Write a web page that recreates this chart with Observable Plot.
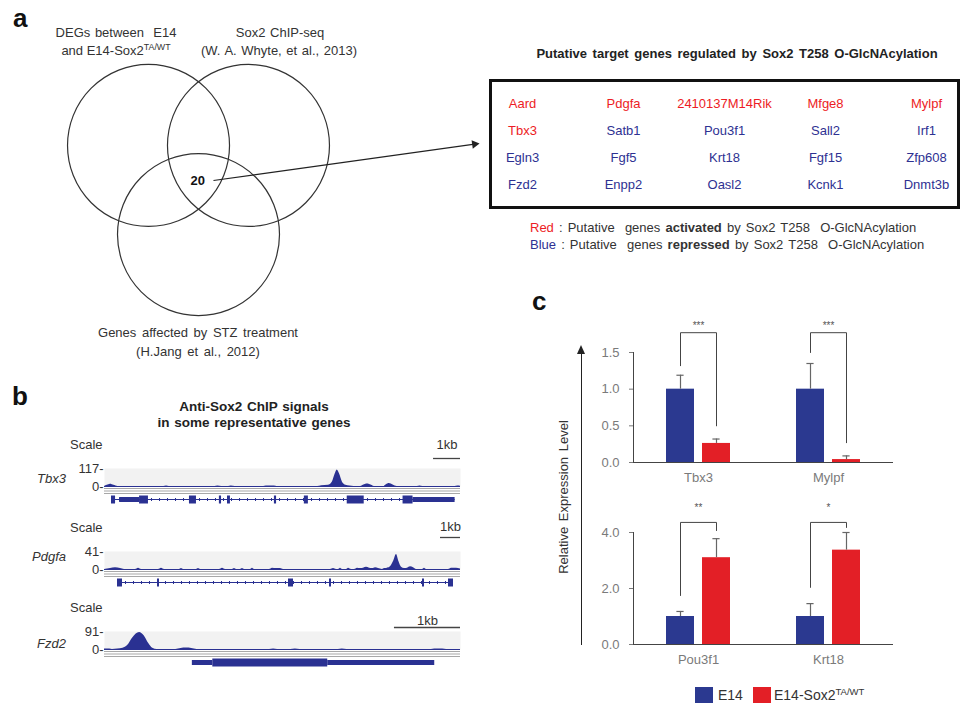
<!DOCTYPE html>
<html><head><meta charset="utf-8">
<script src="https://cdn.jsdelivr.net/npm/d3@7"></script>
<script src="https://cdn.jsdelivr.net/npm/@observablehq/plot@0.6"></script>
<style>
html,body{margin:0;padding:0;background:#fff;}
#root{position:relative;width:962px;height:703px;overflow:hidden;font-family:"Liberation Sans",Arial,sans-serif;color:#333;background:#fff;}
.t{position:absolute;white-space:nowrap;line-height:1.15;font-size:13px;}
.c{transform:translate(-50%,-50%);}
.l{transform:translate(0,-50%);}
.r{transform:translate(-100%,-50%);}
.pl{position:absolute;font-weight:bold;font-size:26px;line-height:26px;color:#111;}
sup{font-size:0.68em;vertical-align:0.5em;line-height:0;}
svg{overflow:visible;}
</style></head>
<body><div id="root"></div>
<script>
// ================= DATA =================
// Panel a — Venn diagram (unit circles)
const vennSetLabels = [
  ["DEGs between&nbsp; E14", "and E14-Sox2<sup>TA/WT</sup>"],
  ["Sox2 ChIP-seq", "(W. A. Whyte, et al., 2013)"],
  ["Genes affected by STZ treatment", "(H.Jang et al., 2012)"]
];
const vennCenterX = [-0.617, 0.617, 0];
const vennCenterY = [0.55, 0.55, -0.55];
const vennRadius = [1, 1, 1];
const tripleOverlapCount = 20;

// Panel a — gene table
const tableTitle = "Putative target genes regulated by Sox2 T258 O-GlcNAcylation";
const targetGenes = ["Aard","Pdgfa","2410137M14Rik","Mfge8","Mylpf",
                     "Tbx3","Satb1","Pou3f1","Sall2","Irf1",
                     "Egln3","Fgf5","Krt18","Fgf15","Zfp608",
                     "Fzd2","Enpp2","Oasl2","Kcnk1","Dnmt3b"];
const activatedGenes = ["Aard","Pdgfa","2410137M14Rik","Mfge8","Mylpf","Tbx3"];

// Panel b — ChIP tracks
const chipTitle = ["Anti-Sox2 ChIP signals", "in some representative genes"];
const chipGenes = ["Tbx3", "Pdgfa", "Fzd2"];
const chipScaleMax = [117, 41, 91];
const chipRegionKb = [13.2, 17.8, 5.39];
const scaleBarKb = 1;
const tbx3Signal = [[0,0],[0.1,8],[0.22,15],[0.35,8],[0.5,0],[2.2,0],[2.3,3],[2.4,0],
  [4.1,0],[4.2,4],[4.35,0],[4.6,0],[4.7,4],[4.85,0],[5.9,0],[6.0,3],[6.3,3],[6.4,0],
  [7.9,0],[8.05,5],[8.3,8],[8.45,30],[8.55,80],[8.63,108],[8.72,80],[8.82,30],[8.95,8],[9.1,3],[9.25,0],
  [9.5,0],[9.6,8],[9.75,16],[9.9,8],[10.0,0],[10.35,0],[10.45,12],[10.56,20],[10.7,10],[10.85,0],
  [11.6,0],[11.7,3],[11.8,0],[13.0,0],[13.1,4],[13.2,2]];
const pdgfaSignal = [[0,0],[0.3,2],[0.55,4],[0.8,2],[1.0,0],[1.55,0],[1.7,3],[1.85,0],
  [2.7,0],[2.85,3],[3.0,0],[3.75,0],[3.85,2],[3.95,0],[4.6,0],[4.7,2],[4.8,0],
  [5.75,0],[5.9,3],[6.05,0],[6.4,0],[6.5,2],[6.6,0],[6.8,0],[6.9,2],[7.0,0],[7.3,0],[7.4,3],[7.5,0],
  [8.25,0],[8.4,3],[8.6,2],[8.8,2],[8.95,0],[11.3,0],[11.45,2],[11.6,0],[11.7,0],[11.8,3],[11.9,0],
  [12.1,0],[12.2,3],[12.35,0],[12.5,0],[12.65,3],[12.8,2],[12.95,3],[13.1,5],[13.25,3],[13.4,2],[13.55,4],[13.7,2],[13.9,0],
  [14.0,2],[14.15,3],[14.3,6],[14.45,18],[14.6,34],[14.72,18],[14.85,5],[15.0,2],
  [15.15,3],[15.3,6],[15.45,4],[15.6,0],[15.9,0],[16.0,3],[16.1,0],[17.2,0],[17.35,3],[17.6,3],[17.8,1]];
const fzd2Signal = [[0,3],[0.08,3],[0.12,0],[0.2,2],[0.28,6],[0.35,20],[0.43,60],[0.53,86],[0.6,70],[0.67,30],[0.73,6],[0.8,0],
  [1.08,0],[1.16,5],[1.24,7],[1.32,5],[1.4,0],[2.5,0],[2.56,3],[2.62,0],[2.82,0],[2.89,3],[2.96,0],
  [3.54,0],[3.6,3],[3.67,0],[4.95,0],[5.0,3],[5.12,3],[5.18,0],[5.39,0]];
const tbx3Introns = [[0.26, 13.0]];
const tbx3Exons = [[0.26,0.41,"cds"],[0.56,1.30,"utr"],[1.30,1.63,"cds"],[3.15,3.41,"cds"],[4.26,4.34,"cds"],
  [4.56,4.67,"cds"],[6.30,6.38,"cds"],[7.41,7.56,"cds"],[9.0,9.63,"cds"],[11.07,11.44,"cds"],[11.44,13.0,"utr"]];
const pdgfaIntrons = [[0.65, 17.45]];
const pdgfaExons = [[0.65,0.9,"cds"],[2.65,2.75,"cds"],[9.2,9.45,"cds"],[11.25,11.35,"cds"],[15.9,16.0,"cds"],[17.2,17.45,"cds"]];
const fzd2Introns = [];
const fzd2Exons = [[1.33,1.64,"utr"],[1.64,3.38,"cds"],[3.38,5.0,"utr"]];

// Panel c — qPCR
const qpcrGenes = ["Tbx3", "Mylpf", "Pou3f1", "Krt18"];
const qpcrConditions = ["E14", "E14-Sox2TA/WT"];
const meanE14 = [1.0, 1.0, 1.0, 1.0];
const errE14 = [0.19, 0.35, 0.18, 0.46];
const meanTA = [0.26, 0.04, 3.10, 3.37];
const errTA = [0.06, 0.05, 0.68, 0.63];
const sigLabels = ["***", "***", "**", "*"];
const bracketLeftY = [1.32, 1.50, 1.75, 2.04];
const bracketTopY = [1.77, 1.77, 4.36, 4.36];
const bracketRightY = [0.50, 0.27, 4.07, 4.18];
const sigY = [1.86, 1.86, 4.89, 4.89];
const yTicksTop = [0, 0.5, 1.0, 1.5];
const yTicksBottom = [0, 2, 4];
const yAxisTitle = "Relative Expression Level";

// ================= STYLE / LAYOUT =================
const RED = "#e31f26", BLUE = "#2b3990", TXT_RED = "#ed1c24", TXT_BLUE = "#2e3192", TRACK = "#2a3192";
const FONT = '"Liberation Sans", Arial, sans-serif';
const baseStyle = {fontFamily: FONT, fontSize: "13px", background: "transparent", overflow: "visible", color: "#333"};
const root = document.getElementById("root");
function put(node, left, top) { node.style.position = "absolute"; node.style.left = left + "px"; node.style.top = top + "px"; root.appendChild(node); return node; }
function txt(html, x, y, cls, extra = "") { const d = document.createElement("div"); d.className = "t " + cls; d.innerHTML = html; d.style.cssText += `left:${x}px;top:${y}px;${extra}`; root.appendChild(d); return d; }
function letter(ch, x, y) { const d = document.createElement("div"); d.className = "pl"; d.textContent = ch; d.style.left = x + "px"; d.style.top = y + "px"; root.appendChild(d); }

// ================= PANEL a : Venn =================
const U = 81; // px per venn unit
const vennCircles = vennCenterX.map((x, i) => ({x, y: vennCenterY[i], r: vennRadius[i]}));
const arrowStart = {x: 0.185, y: 0.117}, arrowTip = {x: 3.469, y: 0.574};
const adx = (arrowTip.x - arrowStart.x), ady = (arrowTip.y - arrowStart.y);
const alen = Math.hypot(adx, ady);
const headBack = 4.9 / U;
const arrowEnd = {x: arrowTip.x - adx / alen * headBack, y: arrowTip.y - ady / alen * headBack};
const arrowAngle = Math.atan2(adx, ady) * 180 / Math.PI;
put(Plot.plot({
  width: 490, height: 390, margin: 0,
  style: baseStyle,
  x: {domain: [-198 / U, 292 / U], axis: null},
  y: {domain: [-200.5 / U, 189.5 / U], axis: null},
  r: {type: "identity"},
  marks: [
    Plot.dot(vennCircles, {x: "x", y: "y", r: d => d.r * U, stroke: "#333", strokeWidth: 1.2, fill: "none"}),
    Plot.text([{x: -0.01, y: 0.117, t: String(tripleOverlapCount)}], {x: "x", y: "y", text: "t", fontWeight: "bold", fontSize: 13, fill: "#111"}),
    Plot.link([{a: arrowStart, b: arrowEnd}], {x1: d => d.a.x, y1: d => d.a.y, x2: d => d.b.x, y2: d => d.b.y, stroke: "#222", strokeWidth: 1.2}),
    Plot.dot([arrowEnd], {x: "x", y: "y", symbol: "triangle", r: 3.2, rotate: arrowAngle, fill: "#222", stroke: "none"})
  ]
}), 0, 0);
letter("a", 13, 5);
txt(vennSetLabels[0][0], 116, 33, "c", "word-spacing:1px");
txt(vennSetLabels[0][1], 116, 51, "c");
txt(vennSetLabels[1][0], 280, 33, "c", "word-spacing:1px");
txt(vennSetLabels[1][1], 279, 51, "c", "word-spacing:1px");
txt(vennSetLabels[2][0], 198, 333, "c", "word-spacing:2px");
txt(vennSetLabels[2][1], 198, 352, "c", "word-spacing:2px");

// ================= PANEL a : table =================
const cells = targetGenes.map((g, i) => ({g, col: i % 5, row: Math.floor(i / 5), reg: activatedGenes.includes(g) ? "activated" : "repressed"}));
put(Plot.plot({
  width: 472, height: 131, margin: 2,
  style: baseStyle,
  x: {type: "point", domain: [0, 1, 2, 3, 4], padding: 0.305, axis: null},
  y: {type: "point", domain: [0, 1, 2, 3], padding: 0.85, axis: null},
  color: {domain: ["activated", "repressed"], range: [TXT_RED, TXT_BLUE]},
  marks: [
    Plot.frame({stroke: "#111", strokeWidth: 3}),
    Plot.text(cells, {x: "col", y: "row", text: "g", fill: "reg", fontSize: 13})
  ]
}), 488, 78);
txt(tableTitle, 737, 54, "c", "font-weight:bold;font-size:13px;color:#222;word-spacing:2px");
txt(`<span style="color:${TXT_RED}">Red</span> : Putative&nbsp; genes <b>activated</b> by Sox2 T258&nbsp; O-GlcNAcylation`, 530, 228, "l", "font-size:13px;word-spacing:1.5px");
txt(`<span style="color:${TXT_BLUE}">Blue</span> : Putative&nbsp; genes <b>repressed</b> by Sox2 T258&nbsp; O-GlcNAcylation`, 530, 245, "l", "font-size:13px;word-spacing:1.5px");

// ================= PANEL b : ChIP tracks =================
letter("b", 12, 383);
txt(chipTitle[0], 254, 407, "c", "font-weight:bold;font-size:13.5px;color:#222;word-spacing:1px");
txt(chipTitle[1], 254, 423, "c", "font-weight:bold;font-size:13.5px;color:#222;word-spacing:1px");
const trackLayout = [
  {top: 418, scaleY: 445, nameY: 479, barDy: 10, textDy: 24},
  {top: 501, scaleY: 528, nameY: 557, barDy: 14, textDy: 25},
  {top: 581, scaleY: 608, nameY: 644, barDy: 4, textDy: 11}
];
const signals = [tbx3Signal, pdgfaSignal, fzd2Signal];
const exonSets = [tbx3Exons, pdgfaExons, fzd2Exons];
const intronSets = [tbx3Introns, pdgfaIntrons, fzd2Introns];
chipGenes.forEach((gene, i) => {
  const Lt = trackLayout[i];
  const maxV = chipScaleMax[i], kb = chipRegionKb[i];
  const sig = signals[i].map(([x, v]) => ({x, v}));
  const feats = exonSets[i].map(([s, e, t]) => ({s, e, t}));
  const intr = intronSets[i].map(([s, e]) => ({s, e}));
  const bar = [{x1: kb - scaleBarKb, x2: kb, xm: kb - scaleBarKb / 2, y: maxV, label: "1kb"}];
  put(Plot.plot({
    width: 470, height: 90, marginLeft: 104, marginRight: 10, marginTop: 50, marginBottom: 22,
    style: baseStyle,
    x: {domain: [0, kb], axis: null},
    y: {domain: [0, maxV], ticks: [0, maxV], tickSize: 0, tickPadding: 1, tickFormat: d => d + "-", label: null},
    marks: [
      Plot.frame({fill: "#f2f2f2", stroke: "none"}),
      ...[2, 4.5, 7].map(o => Plot.ruleY([0], {dy: o, stroke: "#a8a8a8", strokeWidth: 1.2})),
      Plot.areaY(sig, {x: "x", y: "v", fill: TRACK, curve: "monotone-x"}),
      Plot.ruleY([0], {stroke: TRACK, strokeWidth: 1}),
      Plot.ruleY(intr, {x1: "s", x2: "e", y: () => 0, dy: 13, stroke: TRACK, strokeWidth: 1}),
      Plot.ruleY(intr, {x1: "s", x2: "e", y: () => 0, dy: 13, stroke: TRACK, strokeWidth: 3, strokeDasharray: "1,7"}),
      Plot.ruleY(feats, {x1: "s", x2: "e", y: () => 0, dy: 13, stroke: TRACK, strokeWidth: d => d.t === "cds" ? 8 : 5}),
      Plot.ruleY(bar, {x1: "x1", x2: "x2", y: "y", dy: -Lt.barDy, stroke: "#444", strokeWidth: 1.3}),
      Plot.text(bar, {x: "xm", y: "y", dy: -Lt.textDy, text: "label", fill: "#333", fontSize: 13})
    ]
  }), 0, Lt.top);
  txt("Scale", 70, Lt.scaleY, "l");
  txt(gene, 66, Lt.nameY, "r", "font-style:italic");
});

// ================= PANEL c : qPCR =================
letter("c", 532, 288);
function qpcrPlot(idx, yMax, ticks, top, height, mb) {
  const rows = idx.flatMap(i => [
    {gene: qpcrGenes[i], cond: qpcrConditions[0], mean: meanE14[i], err: errE14[i]},
    {gene: qpcrGenes[i], cond: qpcrConditions[1], mean: meanTA[i], err: errTA[i]}
  ]);
  const brackets = idx.flatMap(i => [
    {gene: qpcrGenes[i], cond: qpcrConditions[0], y: bracketLeftY[i]},
    {gene: qpcrGenes[i], cond: qpcrConditions[0], y: bracketTopY[i]},
    {gene: qpcrGenes[i], cond: qpcrConditions[1], y: bracketTopY[i]},
    {gene: qpcrGenes[i], cond: qpcrConditions[1], y: bracketRightY[i]}
  ]);
  const stars = idx.map(i => ({gene: qpcrGenes[i], y: sigY[i], label: sigLabels[i]}));
  put(Plot.plot({
    width: 340, height, marginLeft: 73, marginRight: 7, marginTop: 52, marginBottom: mb,
    style: {...baseStyle, color: "#7a7a7a"},
    fx: {domain: idx.map(i => qpcrGenes[i]), padding: 0, axis: "bottom", label: null, tickSize: 0, tickPadding: 10},
    x: {domain: qpcrConditions, paddingInner: 0.22, paddingOuter: 0.87, axis: null},
    y: {domain: [0, yMax], ticks, tickFormat: d3.format(".1f"), tickSize: 4, tickPadding: 10, label: null},
    color: {domain: qpcrConditions, range: [BLUE, RED]},
    marks: [
      Plot.barY(rows, {fx: "gene", x: "cond", y: "mean", fill: "cond"}),
      Plot.ruleX(rows, {fx: "gene", x: "cond", y1: "mean", y2: d => d.mean + d.err, stroke: "#666", strokeWidth: 1.2}),
      Plot.tickY(rows, {fx: "gene", x: "cond", y: d => d.mean + d.err, stroke: "#666", strokeWidth: 1.2, insetLeft: 10.4, insetRight: 10.4}),
      Plot.ruleY([0], {stroke: "#444"}),
      Plot.frame({anchor: "left", facetAnchor: "left", stroke: "#444"}),
      Plot.line(brackets, {fx: "gene", x: "cond", y: "y", z: "gene", stroke: "#444", strokeWidth: 1}),
      Plot.text(stars, {fx: "gene", y: "y", text: "label", fontSize: 10, fill: "#555"})
    ]
  }), 560, top);
}
qpcrPlot([0, 1], 1.5, yTicksTop, 300, 190, 28);
qpcrPlot([2, 3], 4.0, yTicksBottom, 480, 200, 36);

// y-axis arrow and title
const axLine = document.createElement("div");
axLine.style.cssText = "position:absolute;left:580.5px;top:352px;width:0;height:293px;border-left:1.3px solid #222;";
root.appendChild(axLine);
const axHead = document.createElement("div");
axHead.style.cssText = "position:absolute;left:577px;top:345px;width:0;height:0;border-left:4px solid transparent;border-right:4px solid transparent;border-bottom:9px solid #222;";
root.appendChild(axHead);
txt(yAxisTitle, 564, 497, "", "transform:translate(-50%,-50%) rotate(-90deg);word-spacing:2px");

// legend
const sw1 = document.createElement("div"); sw1.style.cssText = `position:absolute;left:695px;top:687px;width:18px;height:17px;background:${BLUE}`; root.appendChild(sw1);
const sw2 = document.createElement("div"); sw2.style.cssText = `position:absolute;left:753px;top:687px;width:18px;height:17px;background:${RED}`; root.appendChild(sw2);
txt(qpcrConditions[0], 718, 695, "l", "font-size:14px");
txt("E14-Sox2<sup>TA/WT</sup>", 774, 695, "l", "font-size:14px");
</script></body></html>
